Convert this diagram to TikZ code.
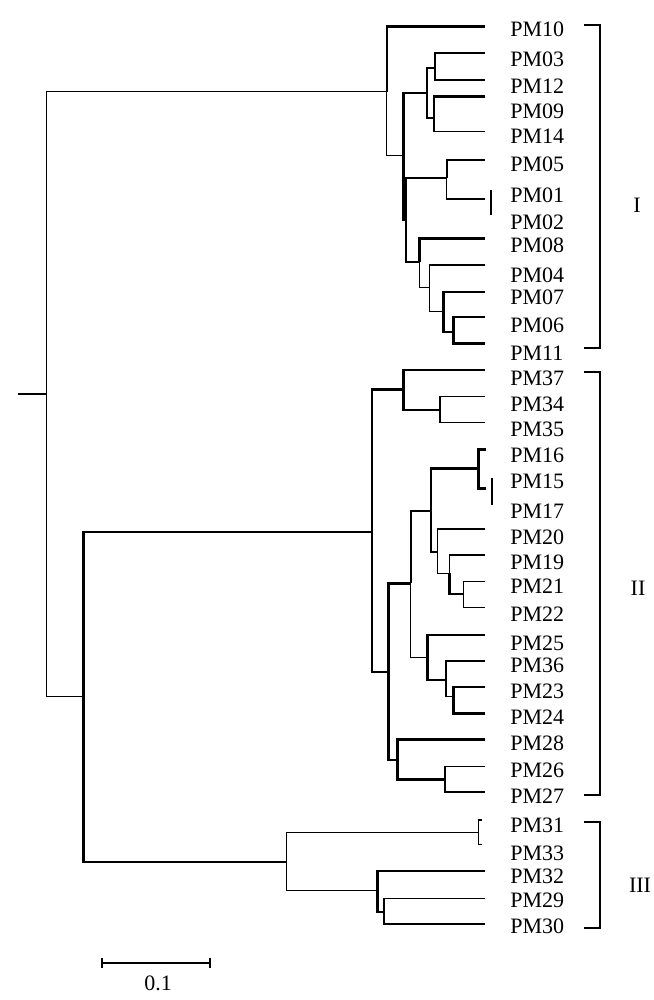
\documentclass[tikz,border=0pt]{standalone}
\usepackage{fontspec}
\setmainfont{Liberation Serif}
\begin{document}
\begin{tikzpicture}[x=0.5pt,y=-0.5pt,
  br/.style={line width=0.75pt},
  brt/.style={line width=1.2pt},
  brace/.style={line width=1pt},
  leaf/.style={anchor=west,inner sep=0pt,font=\fontsize{11}{13}\selectfont},
  clade/.style={inner sep=0pt,font=\fontsize{11}{13}\selectfont}]
\useasboundingbox (0,0) rectangle (653,1000);
% ---------- internal nodes ----------
\coordinate (R0) at (18,394);
\coordinate (R) at (46.7,394);
\coordinate (A) at (386.7,91.7);
\coordinate (B) at (403.3,155.7);
\coordinate (C) at (427,93.3);
\coordinate (E) at (435,68);
\coordinate (F) at (434,118);
\coordinate (D) at (405.7,220);
\coordinate (G) at (446.7,178.3);
\coordinate (G2) at (485,199);
\coordinate (p01) at (490.7,190);
\coordinate (p02) at (490.7,215);
\coordinate (H) at (419.3,261.7);
\coordinate (I) at (429.3,287.3);
\coordinate (J) at (443.3,311.7);
\coordinate (K) at (453.3,331.7);
\coordinate (L) at (83.3,696.7);
\coordinate (M) at (371.7,531.7);
\coordinate (N) at (403.3,389.3);
\coordinate (O) at (440,410);
\coordinate (P) at (388.3,671.7);
\coordinate (Q) at (410.7,583.3);
\coordinate (S) at (430.7,510.7);
\coordinate (T) at (478.3,468.3);
\coordinate (p15) at (491.7,478.3);
\coordinate (p17) at (491.7,505);
\coordinate (U) at (437.3,551.7);
\coordinate (V) at (449.3,573.3);
\coordinate (W) at (463.3,594);
\coordinate (X) at (427.3,657.7);
\coordinate (Y) at (446,680);
\coordinate (Z) at (453.3,696.7);
\coordinate (AA) at (397.3,760);
\coordinate (AB) at (445,779.3);
\coordinate (AC) at (286.7,861.7);
\coordinate (AD) at (478.3,832.3);
\coordinate (AE) at (377.3,890.7);
\coordinate (AF) at (384,911.7);
% ---------- leaf tips ----------
\coordinate (t10) at (485,26.7);
\coordinate (t03) at (485,53.3);
\coordinate (t12) at (485,80);
\coordinate (t09) at (485,96.7);
\coordinate (t14) at (485,131.7);
\coordinate (t05) at (485,160);
\coordinate (t08) at (485,238.3);
\coordinate (t04) at (485,265);
\coordinate (t07) at (485,291.7);
\coordinate (t06) at (485,316.7);
\coordinate (t11) at (485,343.3);
\coordinate (t37) at (485,370);
\coordinate (t34) at (485,396.7);
\coordinate (t35) at (485,422.3);
\coordinate (t16) at (485.7,449.3);
\coordinate (t15) at (485.7,488.3);
\coordinate (t20) at (485,529);
\coordinate (t19) at (485,555);
\coordinate (t21) at (485,581.7);
\coordinate (t22) at (485,607.7);
\coordinate (t25) at (485,635);
\coordinate (t36) at (485,661);
\coordinate (t23) at (485,686.7);
\coordinate (t24) at (485,713.3);
\coordinate (t28) at (485,739.3);
\coordinate (t26) at (485,766.7);
\coordinate (t27) at (485,791.7);
\coordinate (t31) at (481.7,820);
\coordinate (t33) at (481.7,844.3);
\coordinate (t32) at (485,871);
\coordinate (t29) at (485,898.3);
\coordinate (t30) at (485,924);
% ---------- branches ----------
\draw[brt] (R0) -- (R);
\draw[br] (R) |- (A);
\draw[br] (R) |- (L);
% clade I
\draw[brt] (A) |- (t10);
\draw[br] (A) |- (B);
\draw[brt] (B) |- (C);
\draw[brt] (B) |- (D);
\draw[br] (C) |- (E);
\draw[br] (C) |- (F);
\draw[brt] (E) |- (t03);
\draw[brt] (E) |- (t12);
\draw[brt] (F) |- (t09);
\draw[br] (F) |- (t14);
\draw[brt] (D) |- (G);
\draw[brt] (D) |- (H);
\draw[brt] (G) |- (t05);
\draw[br] (G) |- (G2);
\draw[brt] (p01) -- (p02);
\draw[brt] (H) |- (t08);
\draw[br] (H) |- (I);
\draw[br] (I) |- (t04);
\draw[br] (I) |- (J);
\draw[brt] (J) |- (t07);
\draw[brt] (J) |- (K);
\draw[brt] (K) |- (t06);
\draw[brt] (K) |- (t11);
% clade II
\draw[brt] (L) |- (M);
\draw[brt] (L) |- (AC);
\draw[brt] (M) |- (N);
\draw[brt] (M) |- (P);
\draw[brt] (N) |- (t37);
\draw[brt] (N) |- (O);
\draw[br] (O) |- (t34);
\draw[br] (O) |- (t35);
\draw[brt] (P) |- (Q);
\draw[brt] (P) |- (AA);
\draw[brt] (Q) |- (S);
\draw[br] (Q) |- (X);
\draw[brt] (S) |- (T);
\draw[brt] (S) |- (U);
\draw[brt] (T) |- (t16);
\draw[brt] (T) |- (t15);
\draw[brt] (p15) -- (p17);
\draw[br] (U) |- (t20);
\draw[br] (U) |- (V);
\draw[br] (V) |- (t19);
\draw[brt] (V) |- (W);
\draw[br] (W) |- (t21);
\draw[br] (W) |- (t22);
\draw[brt] (X) |- (t25);
\draw[brt] (X) |- (Y);
\draw[br] (Y) |- (t36);
\draw[br] (Y) |- (Z);
\draw[brt] (Z) |- (t23);
\draw[brt] (Z) |- (t24);
\draw[brt] (AA) |- (t28);
\draw[brt] (AA) |- (AB);
\draw[br] (AB) |- (t26);
\draw[brt] (AB) |- (t27);
% clade III
\draw[br] (AC) |- (AD);
\draw[br] (AC) |- (AE);
\draw[br] (AD) |- (t31);
\draw[br] (AD) |- (t33);
\draw[brt] (AE) |- (t32);
\draw[brt] (AE) |- (AF);
\draw[br] (AF) |- (t29);
\draw[br] (AF) |- (t30);
% ---------- leaf labels ----------
\node[leaf] (PM10) at (510,29) {PM10};
\node[leaf] (PM03) at (510,59) {PM03};
\node[leaf] (PM12) at (510,86) {PM12};
\node[leaf] (PM09) at (510,111.7) {PM09};
\node[leaf] (PM14) at (510,136.7) {PM14};
\node[leaf] (PM05) at (510,164) {PM05};
\node[leaf] (PM01) at (510,195) {PM01};
\node[leaf] (PM02) at (510,222.7) {PM02};
\node[leaf] (PM08) at (510,245) {PM08};
\node[leaf] (PM04) at (510,275) {PM04};
\node[leaf] (PM07) at (510,297.3) {PM07};
\node[leaf] (PM06) at (510,325.7) {PM06};
\node[leaf] (PM11) at (510,353) {PM11};
\node[leaf] (PM37) at (510,378.3) {PM37};
\node[leaf] (PM34) at (510,404.3) {PM34};
\node[leaf] (PM35) at (510,429) {PM35};
\node[leaf] (PM16) at (510,455) {PM16};
\node[leaf] (PM15) at (510,481.7) {PM15};
\node[leaf] (PM17) at (510,511.7) {PM17};
\node[leaf] (PM20) at (510,537) {PM20};
\node[leaf] (PM19) at (510,562.7) {PM19};
\node[leaf] (PM21) at (510,586.7) {PM21};
\node[leaf] (PM22) at (510,614) {PM22};
\node[leaf] (PM25) at (510,643.3) {PM25};
\node[leaf] (PM36) at (510,665) {PM36};
\node[leaf] (PM23) at (510,691.7) {PM23};
\node[leaf] (PM24) at (510,717.3) {PM24};
\node[leaf] (PM28) at (510,743.3) {PM28};
\node[leaf] (PM26) at (510,770) {PM26};
\node[leaf] (PM27) at (510,796.7) {PM27};
\node[leaf] (PM31) at (510,825) {PM31};
\node[leaf] (PM33) at (510,853.3) {PM33};
\node[leaf] (PM32) at (510,876.7) {PM32};
\node[leaf] (PM29) at (510,900) {PM29};
\node[leaf] (PM30) at (510,926) {PM30};
% ---------- clade brackets ----------
\coordinate (b1a) at (584,25);   \coordinate (b1b) at (600,25);
\coordinate (b1c) at (600,348);  \coordinate (b1d) at (584,348);
\draw[brace] (b1a) -- (b1b) -- (b1c) -- (b1d);
\coordinate (b2a) at (584,372);  \coordinate (b2b) at (600,372);
\coordinate (b2c) at (600,795);  \coordinate (b2d) at (584,795);
\draw[brace] (b2a) -- (b2b) -- (b2c) -- (b2d);
\coordinate (b3a) at (584,822);  \coordinate (b3b) at (600,822);
\coordinate (b3c) at (600,928);  \coordinate (b3d) at (584,928);
\draw[brace] (b3a) -- (b3b) -- (b3c) -- (b3d);
\node[clade] (cI) at (637,205) {I};
\node[clade] (cII) at (638,588) {II};
\node[clade] (cIII) at (640,885) {III};
% ---------- scale bar ----------
\coordinate (s1) at (101.7,962.7);
\coordinate (s2) at (210,962.7);
\draw[brt] (s1) -- (s2);
\draw[brt] ([yshift=2.5pt]s1) -- ([yshift=-2.5pt]s1);
\draw[brt] ([yshift=2.5pt]s2) -- ([yshift=-2.5pt]s2);
\node[clade] (sc) at (158,983) {0.1};
\end{tikzpicture}
\end{document}
